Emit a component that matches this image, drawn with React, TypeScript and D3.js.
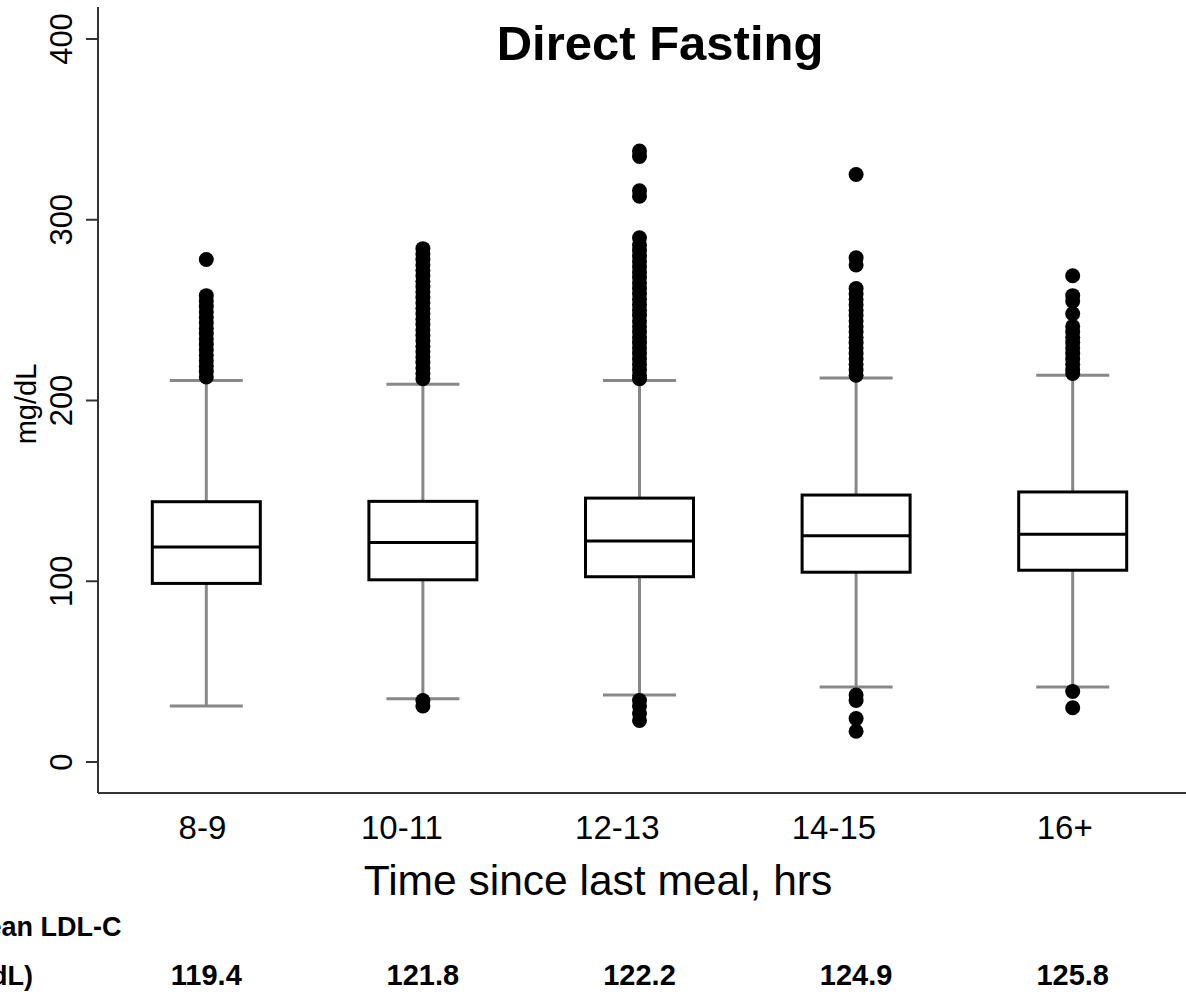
import * as d3 from "d3";

const groups = ["8-9", "10-11", "12-13", "14-15", "16+"];
const q1 = [98.8, 100.8, 102.5, 105, 106.1];
const medians = [119, 121.5, 122.3, 125.2, 126];
const q3 = [144, 144.2, 146, 147.7, 149.4];
const whiskerLow = [31, 35, 37, 41.5, 41.5];
const whiskerHigh = [211, 209, 211, 212.5, 214];
const outliers = [
  [278, 258, 255, 252, 249, 246, 243, 240, 237, 234, 231, 228, 225, 222, 219, 216, 213],
  [284, 281, 278, 275, 272, 269, 266, 263, 260, 257, 254, 251, 248, 245, 242, 239, 236, 233, 230, 227, 224, 221, 218, 215, 212, 34, 31],
  [338, 335, 316, 313, 290, 286, 283, 280, 277, 274, 271, 268, 265, 262, 259, 256, 253, 250, 247, 244, 241, 238, 235, 232, 229, 226, 223, 220, 217, 214, 212, 34, 31, 27, 23],
  [325, 279, 275, 262, 259, 256, 253, 250, 247, 244, 241, 238, 235, 232, 229, 226, 223, 220, 217, 214, 37, 34, 24, 17],
  [269, 258, 255, 248, 241, 238, 235, 232, 229, 226, 223, 220, 217, 215, 39, 30],
];
const meanLdl = ["119.4", "121.8", "122.2", "124.9", "125.8"];
const yTicks = [0, 100, 200, 300, 400];

const W = 1186;
const H = 995;
const font = "'Liberation Sans', Arial, sans-serif";

export default function App() {
  const x = d3.scalePoint<string>().domain(groups).range([98, 1181]).padding(0.5);
  const y = d3.scaleLinear().domain([0, 400]).range([762, 39]);
  const boxW = 108;
  const capW = 73;
  const axisY = 793;

  return (
    <svg
      width={W}
      height={H}
      style={{ position: "absolute", left: 0, top: 0, background: "#fff" }}
      fontFamily={font}
    >
      <rect width={W} height={H} fill="#fff" />

      {/* title */}
      <text x={660} y={60} textAnchor="middle" fontSize={49} fontWeight="bold">
        Direct Fasting
      </text>

      {/* y axis */}
      <line x1={98} x2={98} y1={7} y2={axisY} stroke="#333" strokeWidth={2} />
      {yTicks.map((t) => (
        <g key={t}>
          <line x1={86} x2={98} y1={y(t)} y2={y(t)} stroke="#333" strokeWidth={2} />
          <text
            transform={`translate(72,${y(t)}) rotate(-90)`}
            textAnchor="middle"
            fontSize={31}
          >
            {t}
          </text>
        </g>
      ))}
      <text transform={`translate(36,404) rotate(-90)`} textAnchor="middle" fontSize={29}>
        mg/dL
      </text>

      {/* x axis */}
      <line x1={98} x2={W} y1={axisY} y2={axisY} stroke="#333" strokeWidth={2} />
      {groups.map((g) => (
        <text key={g} x={x(g)! + 20} y={839} textAnchor="end" fontSize={33}>
          {g}
        </text>
      ))}
      <text x={598} y={895} textAnchor="middle" fontSize={42.5}>
        Time since last meal, hrs
      </text>

      {/* boxes */}
      {groups.map((g, i) => {
        const cx = x(g)!;
        return (
          <g key={g}>
            <line x1={cx} x2={cx} y1={y(q3[i])} y2={y(whiskerHigh[i])} stroke="#888" strokeWidth={3} />
            <line x1={cx} x2={cx} y1={y(q1[i])} y2={y(whiskerLow[i])} stroke="#888" strokeWidth={3} />
            <line x1={cx - capW / 2} x2={cx + capW / 2} y1={y(whiskerHigh[i])} y2={y(whiskerHigh[i])} stroke="#888" strokeWidth={3} />
            <line x1={cx - capW / 2} x2={cx + capW / 2} y1={y(whiskerLow[i])} y2={y(whiskerLow[i])} stroke="#888" strokeWidth={3} />
            <rect
              x={cx - boxW / 2}
              y={y(q3[i])}
              width={boxW}
              height={y(q1[i]) - y(q3[i])}
              fill="#fff"
              stroke="#000"
              strokeWidth={3}
            />
            <line x1={cx - boxW / 2} x2={cx + boxW / 2} y1={y(medians[i])} y2={y(medians[i])} stroke="#000" strokeWidth={3} />
            {outliers[i].map((v, j) => (
              <circle key={j} cx={cx} cy={y(v)} r={7.5} fill="#000" />
            ))}
          </g>
        );
      })}

      {/* mean LDL-C row */}
      <text x={-36} y={936} fontSize={27} fontWeight="bold">
        Mean LDL-C
      </text>
      <text x={-66} y={985} fontSize={27} fontWeight="bold">
        (mg/dL)
      </text>
      {groups.map((g, i) => (
        <text key={g} x={x(g)!} y={985} textAnchor="middle" fontSize={29} fontWeight="bold">
          {meanLdl[i]}
        </text>
      ))}
    </svg>
  );
}
